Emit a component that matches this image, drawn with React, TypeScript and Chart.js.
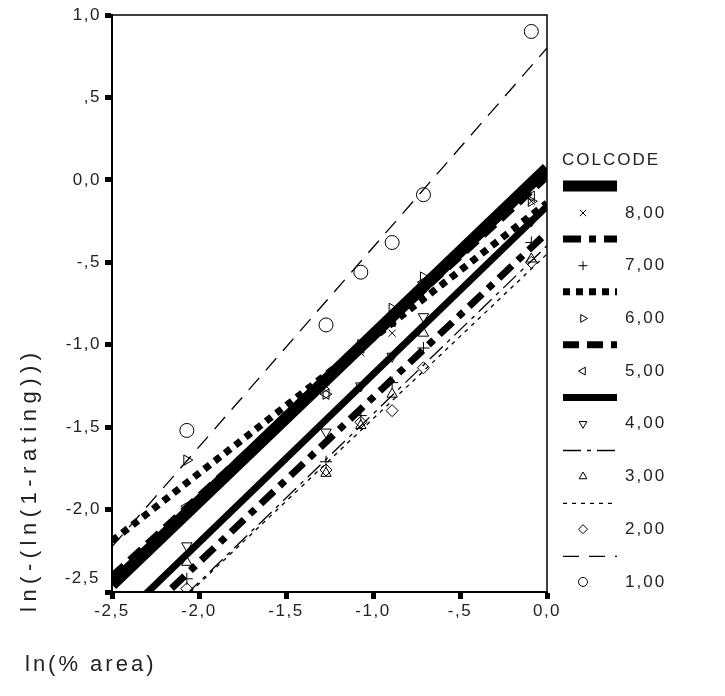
import React, { useEffect, useRef } from "react";
import { Chart, registerables } from "chart.js";
import { drawPoint } from "chart.js/helpers";

Chart.register(...registerables);

// ---- data ----
const groupLabels = ["8,00", "7,00", "6,00", "5,00", "4,00", "3,00", "2,00", "1,00"];
const xObs = [-2.07, -1.27, -1.07, -0.89, -0.71, -0.09];

const y8 = [-2.0, -1.25, -1.05, -0.93, -0.66, -0.13];
const y7 = [-2.42, -1.71, -1.43, -1.23, -1.02, -0.38];
const y6 = [-1.7, -1.3, -1.0, -0.78, -0.59, -0.13];
const y5 = [-1.98, -1.3, -1.02, -0.86, -0.62, -0.1];
const y4 = [-2.22, -1.53, -1.25, -1.07, -0.83, -0.25];
const y3 = [-2.32, -1.78, -1.49, -1.3, -0.93, -0.48];
const y2 = [-2.48, -1.76, -1.47, -1.4, -1.14, -0.5];
const y1 = [-1.52, -0.88, -0.56, -0.38, -0.09, 0.9];

// fitted lines (intercept at x=0, slope), order 8..1
const fitIntercepts = [0.07, -0.32, -0.14, 0.02, -0.16, -0.4, -0.45, 0.8];
const fitSlopes = [1.01, 1.0, 0.82, 0.97, 1.02, 1.02, 1.0, 1.21];

const xTicks = [-2.5, -2.0, -1.5, -1.0, -0.5, 0.0];
const yTicks = [1.0, 0.5, 0.0, -0.5, -1.0, -1.5, -2.0, -2.5];
const xRange = [-2.5, 0];
const yRange = [-2.5, 1.0];

const yGroups = [y8, y7, y6, y5, y4, y3, y2, y1];

// ---- styles ----
const lineWidths = [12, 7, 7, 7, 7, 1.3, 1.3, 1.3];
const lineDashes: number[][] = [[], [18, 8, 7, 8], [7, 6], [16, 8], [], [18, 6, 4, 6], [4, 5], [16, 10]];
const pointStyles = ["crossRot", "cross", "triangle", "triangle", "triangle", "triangle", "rectRot", "circle"];
const pointRotations = [0, 0, 90, -90, 180, 0, 0, 0];
const pointRadii = [5, 6, 6, 6, 6, 6, 6, 7];

const FONT = "'Liberation Sans', Arial, sans-serif";

function fmt(v: number): string {
  let s = (Math.round(v * 10) / 10).toFixed(1).replace(".", ",");
  if (s === "0,0" || s === "-0,0") return "0,0";
  if (s.startsWith("0,")) s = s.slice(1);
  if (s.startsWith("-0,")) s = "-" + s.slice(2);
  return s;
}

const overlay = {
  id: "overlay",
  beforeDraw(chart: any) {
    chart.ctx.letterSpacing = "1.5px";
  },
  afterDraw(chart: any) {
    const ctx = chart.ctx as CanvasRenderingContext2D;
    const { left, top, right, bottom } = chart.chartArea;
    ctx.save();
    ctx.strokeStyle = "#000";
    ctx.lineWidth = 1.5;
    ctx.setLineDash([]);
    ctx.strokeRect(left, top, right - left, bottom - top);

    // bottom y tick label, lifted above the x axis like the original
    ctx.fillStyle = "#222";
    (ctx as any).letterSpacing = "1.5px";
    ctx.font = `17px ${FONT}`;
    ctx.textAlign = "right";
    ctx.textBaseline = "middle";
    ctx.fillText(fmt(yRange[0]), left - 12, bottom - 14);

    // axis titles
    (ctx as any).letterSpacing = "3px";
    ctx.font = `22px ${FONT}`;
    ctx.textAlign = "left";
    ctx.fillText("ln(% area)", 25, 665);
    (ctx as any).letterSpacing = "5.5px";
    ctx.save();
    ctx.translate(30, 612);
    ctx.rotate(-Math.PI / 2);
    ctx.fillText("ln(-(ln(1-rating)))", 0, 0);
    ctx.restore();

    // legend
    (ctx as any).letterSpacing = "2px";
    ctx.font = `17px ${FONT}`;
    ctx.textAlign = "left";
    ctx.fillText("COLCODE", 562, 160);
    for (let i = 0; i < groupLabels.length; i++) {
      const ly = 186 + i * 52.9;
      const my = 213 + i * 52.7;
      ctx.save();
      ctx.strokeStyle = "#000";
      ctx.lineWidth = lineWidths[i] > 10 ? 11 : lineWidths[i] > 5 ? 7 : 1.3;
      ctx.lineCap = "butt";
      ctx.setLineDash(lineDashes[i]);
      ctx.beginPath();
      ctx.moveTo(563, ly);
      ctx.lineTo(617, ly);
      ctx.stroke();
      ctx.restore();
      ctx.save();
      ctx.strokeStyle = "#000";
      ctx.fillStyle = "rgba(0,0,0,0)";
      ctx.lineWidth = 1;
      drawPoint(ctx, { pointStyle: pointStyles[i], radius: 4.5, rotation: pointRotations[i], borderWidth: 1 } as any, 583, my);
      ctx.restore();
      ctx.fillStyle = "#222";
      ctx.fillText(groupLabels[i], 625, my);
    }
    ctx.restore();
  },
};

export default function App() {
  const ref = useRef<HTMLCanvasElement>(null);
  useEffect(() => {
    if (!ref.current) return;
    const datasets: any[] = [];
    for (let i = 0; i < groupLabels.length; i++) {
      const a = fitIntercepts[i];
      const b = fitSlopes[i];
      datasets.push({
        type: "line",
        label: "fit " + groupLabels[i],
        data: [
          { x: xRange[0], y: a + b * xRange[0] },
          { x: xRange[1], y: a + b * xRange[1] },
        ],
        borderColor: "#000",
        borderWidth: lineWidths[i],
        borderDash: lineDashes[i],
        borderCapStyle: "butt",
        pointRadius: 0,
        fill: false,
        tension: 0,
        order: 2,
      });
    }
    for (let i = 0; i < groupLabels.length; i++) {
      datasets.push({
        type: "scatter",
        label: groupLabels[i],
        data: xObs.map((x, k) => ({ x, y: yGroups[i][k] })),
        pointStyle: pointStyles[i],
        rotation: pointRotations[i],
        pointRadius: pointRadii[i],
        borderColor: "#000",
        backgroundColor: "rgba(0,0,0,0)",
        borderWidth: 1,
        order: 1,
      });
    }
    const tickStyle = { color: "#222", font: { family: FONT, size: 17 } };
    const chart = new Chart(ref.current, {
      type: "scatter",
      data: { datasets },
      options: {
        animation: false,
        responsive: false,
        layout: { padding: { left: 0, top: 15, right: 178, bottom: 0 } },
        plugins: { legend: { display: false }, tooltip: { enabled: false } },
        scales: {
          x: {
            type: "linear",
            min: xRange[0],
            max: xRange[1],
            afterBuildTicks: (s: any) => {
              s.ticks = xTicks.map((v) => ({ value: v }));
            },
            afterFit: (s: any) => {
              s.height = 104;
            },
            grid: { drawOnChartArea: false, color: "#000", tickLength: 7, tickWidth: 5, tickColor: "#000" },
            border: { color: "#000", width: 2 },
            ticks: { ...tickStyle, padding: 2, maxRotation: 0, autoSkip: false, callback: (v: any) => fmt(Number(v)) },
          },
          y: {
            type: "linear",
            min: yRange[0],
            max: yRange[1],
            afterBuildTicks: (s: any) => {
              s.ticks = yTicks.map((v) => ({ value: v }));
            },
            afterFit: (s: any) => {
              s.width = 112;
            },
            grid: { drawOnChartArea: false, color: "#000", tickLength: 7, tickWidth: 5, tickColor: "#000" },
            border: { color: "#000", width: 2 },
            ticks: {
              ...tickStyle,
              padding: 4,
              autoSkip: false,
              callback: (v: any) => (Number(v) === yRange[0] ? "" : fmt(Number(v))),
            },
          },
        },
      },
      plugins: [overlay],
    });
    return () => chart.destroy();
  }, []);
  return (
    <div style={{ position: "fixed", left: 0, top: 0, width: 725, height: 696, background: "#fff" }}>
      <canvas ref={ref} width={725} height={696} style={{ width: 725, height: 696 }} />
    </div>
  );
}
